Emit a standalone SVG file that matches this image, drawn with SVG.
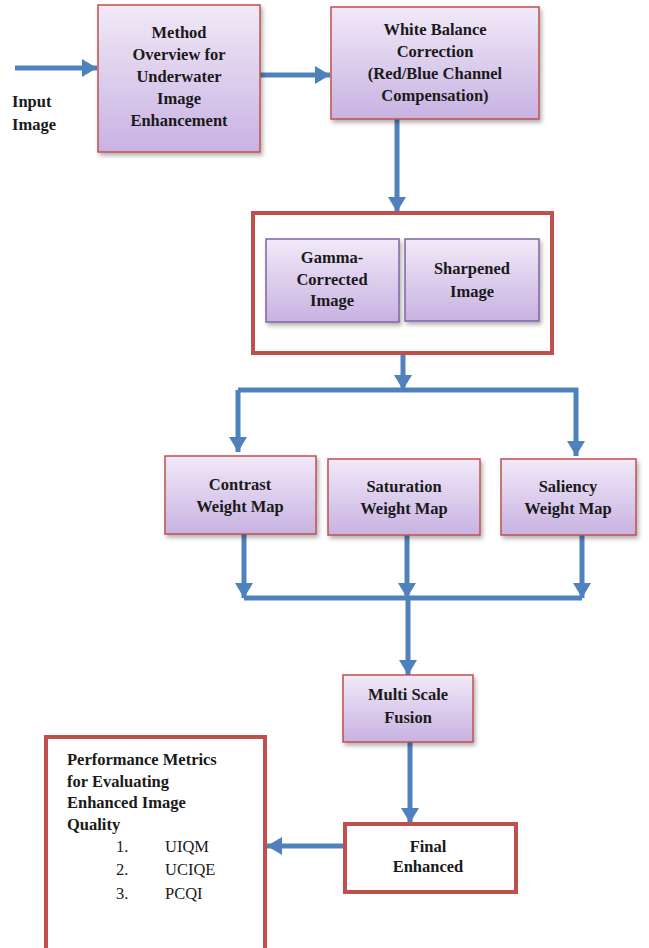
<svg xmlns="http://www.w3.org/2000/svg" width="649" height="948" viewBox="0 0 649 948">
<style>
text{font-family:'Liberation Serif','Tinos','Times New Roman','DejaVu Serif',serif;font-size:16.5px;font-weight:bold;fill:#1a1a1a;text-anchor:middle}
.l{text-anchor:start}
.n{font-weight:normal}
.box{fill:url(#g);stroke:#c0504d;stroke-width:1.5;filter:url(#sh)}
.ibox{fill:url(#g);stroke:#8064a2;stroke-width:1.5;filter:url(#sh)}
.frame{fill:#fff;stroke:#c0504d;stroke-width:4}
.c{fill:none;stroke:#4f81bd;stroke-width:5}
.a{marker-end:url(#ah)}
</style>
<defs>
<linearGradient id="g" x1="0" y1="0" x2="0" y2="1">
<stop offset="0" stop-color="#f1e9f8"/>
<stop offset="1" stop-color="#c8b2e2"/>
</linearGradient>
<filter id="sh" x="-10%" y="-10%" width="125%" height="130%">
<feDropShadow dx="2" dy="3" stdDeviation="2" flood-color="#000" flood-opacity="0.3"/>
</filter>
<marker id="ah" markerUnits="userSpaceOnUse" markerWidth="16" markerHeight="18" refX="15" refY="9" orient="auto-start-reverse">
<path d="M0,0 L15,9 L0,18 z" fill="#4f81bd"/>
</marker>
</defs>
<rect width="649" height="948" fill="#fff"/>
<g id="connectors">
<path class="c a" d="M15,68 H97"/>
<path class="c a" d="M250,75 H330"/>
<path class="c a" d="M397,119 V212"/>
<path class="c a" d="M403,353 V390"/>
<path class="c a" d="M238,390 H576 V456"/>
<path class="c a" d="M238,390 V452"/>
<path class="c a" d="M244,534 V598"/>
<path class="c a" d="M407,535 V598"/>
<path class="c a" d="M582,535 V598"/>
<path class="c" d="M244,598 H582"/>
<path class="c a" d="M408,598 V675"/>
<path class="c a" d="M410,742 V823"/>
<path class="c a" d="M345,846 H267"/>
</g>
<g id="input">
<text class="l" x="12" y="107">Input</text>
<text class="l" x="12" y="130">Image</text>
</g>
<g id="method">
<rect class="box" x="98" y="5" width="162" height="147"/>
<text x="179" y="38">Method</text>
<text x="179" y="60">Overview for</text>
<text x="179" y="82">Underwater</text>
<text x="179" y="104">Image</text>
<text x="179" y="126">Enhancement</text>
</g>
<g id="whitebalance">
<rect class="box" x="331" y="7" width="208" height="112"/>
<text x="435" y="35">White Balance</text>
<text x="435" y="57">Correction</text>
<text x="435" y="79">(Red/Blue Channel</text>
<text x="435" y="101">Compensation)</text>
</g>
<g id="container">
<rect class="frame" x="253" y="213" width="299" height="140"/>
</g>
<g id="gamma">
<rect class="ibox" x="266" y="239" width="133" height="83"/>
<text x="332" y="263">Gamma-</text>
<text x="332" y="285">Corrected</text>
<text x="332" y="306">Image</text>
</g>
<g id="sharpened">
<rect class="ibox" x="405" y="239" width="134" height="82"/>
<text x="472" y="274">Sharpened</text>
<text x="472" y="297">Image</text>
</g>
<g id="contrast">
<rect class="box" x="165" y="456" width="151" height="78"/>
<text x="240" y="490">Contrast</text>
<text x="240" y="512">Weight Map</text>
</g>
<g id="saturation">
<rect class="box" x="328" y="459" width="152" height="76"/>
<text x="404" y="492">Saturation</text>
<text x="404" y="514">Weight Map</text>
</g>
<g id="saliency">
<rect class="box" x="501" y="459" width="135" height="76"/>
<text x="568" y="492">Saliency</text>
<text x="568" y="514">Weight Map</text>
</g>
<g id="fusion">
<rect class="box" x="343" y="675" width="130" height="67"/>
<text x="408" y="700">Multi Scale</text>
<text x="408" y="723">Fusion</text>
</g>
<g id="final">
<rect class="frame" x="345" y="824" width="171" height="68"/>
<text x="428" y="852">Final</text>
<text x="428" y="872">Enhanced</text>
</g>
<g id="metrics">
<rect class="frame" x="46" y="737" width="219" height="220"/>
<text class="l" x="67" y="765">Performance Metrics</text>
<text class="l" x="67" y="787">for Evaluating</text>
<text class="l" x="67" y="808">Enhanced Image</text>
<text class="l" x="67" y="830">Quality</text>
<text class="l n" x="116" y="852">1.</text>
<text class="l n" x="165" y="852">UIQM</text>
<text class="l n" x="116" y="875">2.</text>
<text class="l n" x="165" y="875">UCIQE</text>
<text class="l n" x="116" y="899">3.</text>
<text class="l n" x="165" y="899">PCQI</text>
</g>
</svg>
